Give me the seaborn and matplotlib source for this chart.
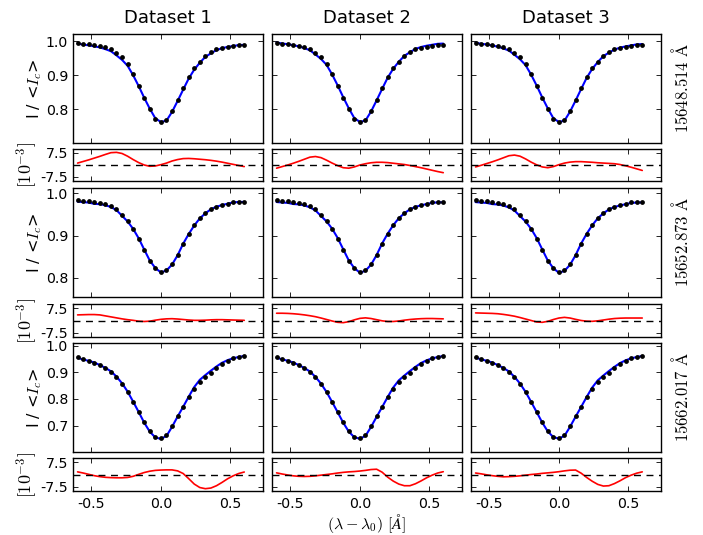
import matplotlib
matplotlib.use("Agg")
import matplotlib.pyplot as plt
import numpy as np
import pandas as pd
import seaborn as sns

# ---------------- data ----------------
datasets = ["Dataset 1", "Dataset 2", "Dataset 3"]
line_labels = ["15648.514", "15652.873", "15662.017"]

offset = [-0.60, -0.56, -0.52, -0.48, -0.44, -0.40, -0.36, -0.32, -0.28, -0.24,
          -0.20, -0.16, -0.12, -0.08, -0.04, 0.00, 0.04, 0.08, 0.12, 0.16,
          0.20, 0.24, 0.28, 0.32, 0.36, 0.40, 0.44, 0.48, 0.52, 0.56, 0.60]

obs_15648 = [0.994, 0.992, 0.991, 0.989, 0.987, 0.983, 0.978, 0.966, 0.952, 0.933,
             0.903, 0.869, 0.833, 0.800, 0.772, 0.762, 0.767, 0.794, 0.827, 0.861,
             0.894, 0.920, 0.940, 0.957, 0.967, 0.976, 0.981, 0.984, 0.986, 0.988, 0.988]
obs_15652 = [0.984, 0.983, 0.982, 0.979, 0.978, 0.975, 0.970, 0.962, 0.948, 0.934,
             0.916, 0.893, 0.866, 0.840, 0.823, 0.813, 0.818, 0.832, 0.854, 0.881,
             0.904, 0.924, 0.941, 0.953, 0.963, 0.969, 0.973, 0.976, 0.979, 0.980, 0.980]
obs_15662 = [0.956, 0.949, 0.943, 0.936, 0.926, 0.915, 0.902, 0.882, 0.857, 0.826,
             0.789, 0.751, 0.712, 0.679, 0.658, 0.653, 0.664, 0.698, 0.736, 0.771,
             0.806, 0.839, 0.864, 0.881, 0.898, 0.915, 0.931, 0.943, 0.952, 0.958, 0.963]

# residuals (observed - fit), in units of 1e-3
res_15648_d1 = [1.2, 2.2, 3.2, 4.3, 5.4, 6.6, 7.7, 7.9, 7.2, 5.5, 3.4, 1.5, 0.0, -0.8, -0.6, 0.2,
                1.2, 2.5, 3.4, 4.0, 4.1, 3.9, 3.6, 3.3, 2.9, 2.4, 1.8, 1.1, 0.4, -0.3, -1.0]
res_15648_d2 = [-2.0, -1.0, 0.0, 1.1, 2.3, 3.6, 4.9, 5.3, 4.6, 3.0, 1.2, -0.4, -1.7, -2.0, -1.2, 0.0,
                0.8, 1.4, 1.7, 1.7, 1.5, 1.1, 0.7, 0.3, -0.3, -1.0, -1.7, -2.5, -3.3, -4.1, -4.8]
res_15648_d3 = [-1.2, -0.2, 0.9, 2.0, 3.2, 4.5, 5.8, 6.2, 5.5, 3.8, 1.8, 0.1, -1.2, -1.7, -1.0, 0.2,
                1.2, 1.8, 2.1, 2.1, 1.9, 1.7, 1.4, 1.2, 1.0, 0.8, 0.3, -0.5, -1.4, -2.4, -3.4]
res_15652_d1 = [3.4, 3.5, 3.6, 3.6, 3.4, 2.8, 2.2, 1.6, 1.0, 0.5, 0.1, -0.4, -0.6, -0.4, 0.2, 0.7,
                1.0, 1.1, 0.9, 0.6, 0.3, 0.1, 0.1, 0.2, 0.4, 0.5, 0.5, 0.4, 0.3, 0.2, 0.1]
res_15652_d2 = [4.4, 4.4, 4.3, 4.1, 3.8, 3.4, 2.9, 2.3, 1.5, 0.6, -0.3, -1.1, -1.3, -0.7, 0.4, 1.3,
                1.6, 1.2, 0.5, -0.2, -0.6, -0.6, -0.3, 0.2, 0.6, 0.9, 1.1, 1.2, 1.2, 1.1, 1.0]
res_15652_d3 = [4.6, 4.5, 4.4, 4.3, 4.1, 3.7, 3.2, 2.6, 1.8, 0.9, 0.0, -0.9, -1.1, -0.5, 0.6, 1.5,
                1.9, 1.5, 0.7, 0.0, -0.4, -0.5, -0.2, 0.3, 0.8, 1.2, 1.4, 1.5, 1.5, 1.5, 1.5]
res_15662_d1 = [1.6, 0.9, 0.1, -0.7, -1.3, -1.7, -1.9, -2.0, -2.0, -1.8, -1.1, 0.1, 1.2, 2.0, 2.5, 2.7,
                2.8, 2.8, 2.2, 0.6, -2.5, -5.8, -7.9, -8.6, -8.2, -6.8, -4.8, -2.6, -0.8, 0.6, 1.5]
res_15662_d2 = [1.0, 0.3, -0.3, -0.8, -1.1, -1.2, -1.1, -0.8, -0.4, 0.0, 0.4, 0.9, 1.3, 1.6, 1.8, 2.1,
                2.5, 3.0, 3.2, 1.4, -1.6, -4.0, -5.8, -6.8, -6.8, -5.6, -3.9, -2.0, -0.4, 0.9, 1.7]
res_15662_d3 = [0.9, 0.4, -0.2, -0.7, -1.1, -1.4, -1.3, -1.1, -0.8, -0.4, 0.0, 0.3, 0.7, 1.0, 1.3, 1.7,
                2.2, 2.6, 2.7, 0.8, -1.8, -4.1, -6.0, -7.0, -6.8, -5.5, -3.8, -1.9, -0.4, 0.8, 1.6]

observed = [obs_15648, obs_15652, obs_15662]
residuals = [[res_15648_d1, res_15648_d2, res_15648_d3],
             [res_15652_d1, res_15652_d2, res_15652_d3],
             [res_15662_d1, res_15662_d2, res_15662_d3]]

profile_ylims = [(0.70, 1.021), (0.754, 1.013), (0.601, 1.010)]
profile_yticks = [[0.8, 0.9, 1.0], [0.8, 0.9, 1.0], [0.7, 0.8, 0.9, 1.0]]
res_yticks = [-7.5, 7.5]
x_ticks = [-0.5, 0.0, 0.5]

# ---------------- style ----------------
sns.set_theme(style="white", rc={
    "axes.edgecolor": "black",
    "axes.linewidth": 1.0,
    "xtick.direction": "in",
    "ytick.direction": "in",
    "xtick.top": True,
    "ytick.right": True,
    "xtick.bottom": True,
    "ytick.left": True,
    "xtick.major.size": 3.5,
    "ytick.major.size": 3.5,
    "xtick.major.width": 0.6,
    "ytick.major.width": 0.6,
    "xtick.color": "black",
    "ytick.color": "black",
    "xtick.labelsize": 10.2,
    "ytick.labelsize": 10.2,
    "xtick.major.pad": 4,
    "ytick.major.pad": 3.5,
    "text.color": "black",
    "axes.labelcolor": "black",
})
plt.rcParams["font.family"] = ["DejaVu Sans"]
plt.rcParams["mathtext.fontset"] = "cm"
plt.rcParams["axes.unicode_minus"] = False

W, H = 703, 535
fig = plt.figure(figsize=(W / 100, H / 100), dpi=100)

col_left = [73, 272, 471]
col_w = 190
prof_rows = [(34, 143), (188, 297), (343, 452)]
res_rows = [(149, 181), (304, 337), (458, 491)]

def rect(x0, y0, y1):
    return [x0 / W, 1 - y1 / H, col_w / W, (y1 - y0) / H]

xlim = (-0.633, 0.735)

for r in range(3):
    for c in range(3):
        obs = np.array(observed[r])
        res = np.array(residuals[r][c])
        df = pd.DataFrame({"x": offset, "obs": obs, "fit": obs - res * 1e-3, "res": res})

        axp = fig.add_axes(rect(col_left[c], *prof_rows[r]))
        sns.lineplot(data=df, x="x", y="fit", ax=axp, color="#0000ff", lw=1.5, sort=False)
        sns.scatterplot(data=df, x="x", y="obs", ax=axp, color="black", s=12,
                        linewidth=0, zorder=3)
        axp.set_xlim(*xlim)
        axp.set_ylim(*profile_ylims[r])
        axp.set_xticks(x_ticks)
        axp.set_xticklabels([])
        axp.set_yticks(profile_yticks[r])
        axp.set_xlabel("")
        axp.set_ylabel("")
        if c == 0:
            axp.set_yticklabels(["%.1f" % v for v in profile_yticks[r]])
            axp.set_ylabel(r"I / <$I_c$>", fontsize=11.5)
            axp.yaxis.set_label_coords(-0.155, 0.5)
        else:
            axp.set_yticklabels([])
        if r == 0:
            axp.set_title(datasets[c], fontsize=13, pad=8)
        if c == 2:
            axp.text(1.11, 0.5, r"$\mathrm{" + line_labels[r] + r"\ \AA}$",
                     transform=axp.transAxes, rotation=90, ha="center", va="center",
                     fontsize=12)

        axr = fig.add_axes(rect(col_left[c], *res_rows[r]))
        sns.lineplot(data=df, x="x", y="res", ax=axr, color="#ff0000", lw=1.2, sort=False)
        axr.axhline(0, color="black", lw=1.0, ls=(0, (5, 4)))
        axr.set_xlim(*xlim)
        axr.set_ylim(-10, 10)
        axr.set_xticks(x_ticks)
        axr.set_yticks(res_yticks)
        axr.set_xlabel("")
        axr.set_ylabel("")
        if r == 2:
            axr.set_xticklabels(["%.1f" % v for v in x_ticks])
        else:
            axr.set_xticklabels([])
        if c == 0:
            axr.set_yticklabels(["-7.5", "7.5"])
            axr.set_ylabel(r"$[10^{-3}]$", fontsize=13)
            axr.yaxis.set_label_coords(-0.175, 0.5)
        else:
            axr.set_yticklabels([])

fig.text(367 / W, 1 - 529 / H, r"$(\lambda - \lambda_0)\ [\AA]$", ha="center",
         va="baseline", fontsize=11.5)

fig.savefig("out.png", dpi=100)
